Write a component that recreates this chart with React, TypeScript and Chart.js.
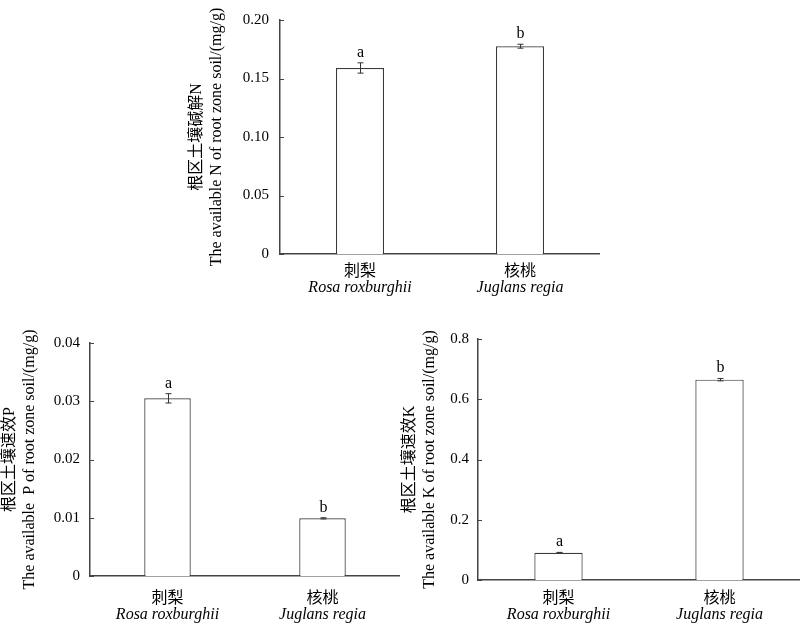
import React, { useEffect, useRef } from "react";
import { Chart, registerables } from "chart.js";

Chart.register(...registerables);

// ---------- data ----------
const categoriesCN = ["刺梨", "核桃"];
const categoriesLatin = ["Rosa roxburghii", "Juglans regia"];

const nValues = [0.159, 0.1776];
const nErrors = [0.0044, 0.0017];
const nLetters = ["a", "b"];
const nTitle = ["根区土壤碱解N", "The available N of root zone soil/(mg/g)"];

const pValues = [0.0305, 0.0099];
const pErrors = [0.0008, 0.0001];
const pLetters = ["a", "b"];
const pTitle = ["根区土壤速效P", "The available  P of root zone soil/(mg/g)"];

const kValues = [0.0907, 0.665];
const kErrors = [0.001, 0.004];
const kLetters = ["a", "b"];
const kTitle = ["根区土壤速效K", "The available K of root zone soil/(mg/g)"];

const SERIF = "'Liberation Serif', 'Noto Sans CJK SC', serif";
const CJK = "'Noto Sans CJK SC', 'Liberation Serif', sans-serif";
const AXIS = "#444";

const annotatePlugin = {
  id: "annotate",
  afterDatasetsDraw(chart: any, _args: any, opts: any) {
    const ctx = chart.ctx as CanvasRenderingContext2D;
    const xs = chart.scales.x;
    const ys = chart.scales.y;
    const area = chart.chartArea;
    ctx.save();
    // inward y tick marks
    ctx.strokeStyle = AXIS;
    ctx.lineWidth = 1;
    ys.ticks.forEach((t: any) => {
      const py = Math.round(ys.getPixelForValue(t.value)) + 0.5;
      ctx.beginPath();
      ctx.moveTo(area.left, py);
      ctx.lineTo(area.left + 4, py);
      ctx.stroke();
    });
    // error bars + letters
    const values: number[] = opts.values;
    values.forEach((v, i) => {
      const e = opts.errors[i];
      const px = Math.round(xs.getPixelForValue(i)) + 0.5;
      const yTop = ys.getPixelForValue(v + e);
      const yBot = ys.getPixelForValue(v - e);
      ctx.strokeStyle = "#333";
      ctx.lineWidth = 1;
      ctx.beginPath();
      ctx.moveTo(px, yTop);
      ctx.lineTo(px, yBot);
      ctx.moveTo(px - 3, yTop);
      ctx.lineTo(px + 3, yTop);
      ctx.moveTo(px - 3, yBot);
      ctx.lineTo(px + 3, yBot);
      ctx.stroke();
      ctx.fillStyle = "#000";
      ctx.font = `16px ${SERIF}`;
      ctx.textAlign = "center";
      ctx.textBaseline = "alphabetic";
      ctx.fillText(opts.letters[i], px, yTop - 6);
    });
    // two-line category labels
    categoriesCN.forEach((label, i) => {
      const px = xs.getPixelForValue(i);
      ctx.fillStyle = "#000";
      ctx.textAlign = "center";
      ctx.textBaseline = "middle";
      ctx.font = `16px ${CJK}`;
      ctx.fillText(label, px, area.bottom + opts.cnOffset);
      ctx.font = `italic 16px ${SERIF}`;
      ctx.fillText(categoriesLatin[i], px, area.bottom + opts.latinOffset);
    });
    ctx.restore();
  },
};

type PanelProps = {
  left: number;
  top: number;
  width: number;
  height: number;
  yAxisWidth: number;
  xAxisHeight: number;
  padTop: number;
  values: number[];
  errors: number[];
  letters: string[];
  title: string[];
  max: number;
  step: number;
  decimals: number;
  tickPad: number;
  titlePad: number;
  cnOffset: number;
  latinOffset: number;
};

function Panel(p: PanelProps) {
  const ref = useRef<HTMLCanvasElement | null>(null);
  useEffect(() => {
    if (!ref.current) return;
    const chart = new Chart(ref.current, {
      type: "bar",
      data: {
        labels: categoriesCN,
        datasets: [
          {
            data: p.values,
            backgroundColor: "#fff",
            borderColor: "#3a3a3a",
            borderWidth: 1.2,
            categoryPercentage: 1,
            barPercentage: 0.3,
          },
        ],
      },
      options: {
        responsive: false,
        animation: false,
        layout: { padding: { top: p.padTop, left: 0, right: 0, bottom: 0 } },
        plugins: {
          legend: { display: false },
          tooltip: { enabled: false },
          annotate: {
            values: p.values,
            errors: p.errors,
            letters: p.letters,
            cnOffset: p.cnOffset,
            latinOffset: p.latinOffset,
          },
        } as any,
        scales: {
          x: {
            grid: { display: false, drawTicks: false },
            border: { display: true, color: AXIS, width: 1.5 },
            ticks: { display: false },
            afterFit: (s: any) => {
              s.height = p.xAxisHeight;
            },
          },
          y: {
            min: 0,
            max: p.max,
            grid: { display: false, drawTicks: false },
            border: { display: true, color: AXIS, width: 1.5 },
            ticks: {
              stepSize: p.step,
              padding: p.tickPad,
              color: "#000",
              font: { family: SERIF, size: 15 },
              callback: (v: any) => (Number(v) === 0 ? "0" : Number(v).toFixed(p.decimals)),
            },
            title: {
              display: true,
              text: p.title,
              color: "#000",
              font: { family: SERIF, size: 16, lineHeight: 20 / 16 },
              padding: { top: p.titlePad, bottom: 0 },
            },
            afterFit: (s: any) => {
              s.width = p.yAxisWidth;
            },
          },
        },
      },
      plugins: [annotatePlugin as any],
    });
    return () => chart.destroy();
  }, []);
  return (
    <canvas
      ref={ref}
      width={p.width}
      height={p.height}
      style={{ position: "absolute", left: p.left, top: p.top, width: p.width, height: p.height }}
    />
  );
}

export default function App() {
  return (
    <div style={{ position: "absolute", left: 0, top: 0, width: 800, height: 623, background: "#fff", overflow: "hidden" }}>
      <Panel
        left={180}
        top={0}
        width={420}
        height={310}
        yAxisWidth={100}
        xAxisHeight={56}
        padTop={16}
        values={nValues}
        errors={nErrors}
        letters={nLetters}
        title={nTitle}
        max={0.2}
        step={0.05}
        decimals={2}
        tickPad={11}
        titlePad={7}
        cnOffset={16}
        latinOffset={34}
      />
      <Panel
        left={0}
        top={320}
        width={400}
        height={303}
        yAxisWidth={90}
        xAxisHeight={47}
        padTop={23}
        values={pValues}
        errors={pErrors}
        letters={pLetters}
        title={pTitle}
        max={0.04}
        step={0.01}
        decimals={2}
        tickPad={10}
        titlePad={0}
        cnOffset={20.7}
        latinOffset={39}
      />
      <Panel
        left={400}
        top={320}
        width={400}
        height={303}
        yAxisWidth={78}
        xAxisHeight={43}
        padTop={19}
        values={kValues}
        errors={kErrors}
        letters={kLetters}
        title={kTitle}
        max={0.8}
        step={0.2}
        decimals={1}
        tickPad={9}
        titlePad={0}
        cnOffset={16.7}
        latinOffset={35}
      />
    </div>
  );
}
